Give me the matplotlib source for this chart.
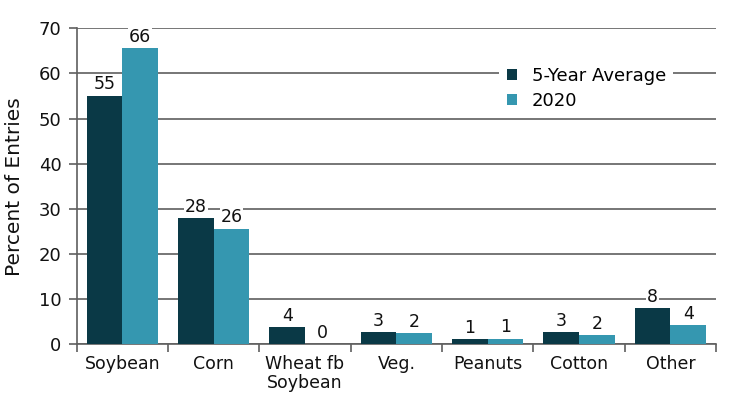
import matplotlib
matplotlib.use('Agg')
import matplotlib.pyplot as plt
import numpy as np

categories = ['Soybean', 'Corn', 'Wheat fb\nSoybean', 'Veg.', 'Peanuts', 'Cotton', 'Other']
avg5 = [55.1, 27.9, 3.8, 2.6, 1.0, 2.6, 7.9]
y2020 = [65.6, 25.6, 0.0, 2.4, 1.2, 1.9, 4.2]
seriesNames = ['5-Year Average', '2020']

darkColor = '#0a3946'
lightColor = '#3597b0'
gridColor = '#5f5f5f'

plt.rcParams['font.family'] = ['DejaVu Sans']

fig = plt.figure(figsize=(7.3, 3.99), dpi=100)
ax = fig.add_axes([0.105, 0.138, 0.876, 0.791])

x = np.arange(len(categories))
w = 0.39
bars1 = ax.bar(x - w / 2, avg5, w, color=darkColor, label=seriesNames[0], zorder=3)
bars2 = ax.bar(x + w / 2, y2020, w, color=lightColor, label=seriesNames[1], zorder=3)

for bars in [bars1, bars2]:
    for b in bars:
        v = b.get_height()
        ax.annotate('%.0f' % v, (b.get_x() + b.get_width() / 2, v), xytext=(0, 1.5),
                    textcoords='offset points', ha='center', va='bottom', fontsize=12.5,
                    color='#111111', zorder=4,
                    bbox=dict(facecolor='white', edgecolor='none', pad=0.5))

ax.set_xlim(-0.5, len(categories) - 0.5)
ax.set_ylim(0, 70)
ax.set_yticks(range(0, 71, 10))
ax.yaxis.grid(True, color=gridColor, linewidth=1.2, zorder=0)
ax.set_axisbelow(True)

# category boundary ticks, labels in between
ax.set_xticks(np.arange(-0.5, len(categories), 1.0))
ax.set_xticklabels([])
ax.set_xticks(x, minor=True)
ax.set_xticklabels(categories, minor=True, fontsize=12.5, va='top', color='#111111',
                   linespacing=1.05)
ax.tick_params(axis='x', which='minor', length=0, pad=8)
ax.tick_params(axis='x', which='major', length=6, color=gridColor, width=1.2)
ax.tick_params(axis='y', length=6, color=gridColor, width=1.2, labelsize=13, pad=5,
               labelcolor='#111111')

for s in ['top', 'right']:
    ax.spines[s].set_visible(False)
for s in ['left', 'bottom']:
    ax.spines[s].set_color(gridColor)
    ax.spines[s].set_linewidth(1.2)

ax.set_ylabel('Percent of Entries', fontsize=14.5, color='#111111', va='center')
ax.yaxis.set_label_coords(-0.097, 0.5)

leg = ax.legend(loc='center', bbox_to_anchor=(0.797, 0.81), frameon=True, fontsize=13,
                handlelength=0.6, handleheight=0.6, handletextpad=0.8, labelspacing=0.4,
                borderpad=0.4, borderaxespad=0, fancybox=False)
leg.get_frame().set_facecolor('white')
leg.get_frame().set_edgecolor('none')
leg.get_frame().set_alpha(1)

fig.savefig('out.png', dpi=100)
